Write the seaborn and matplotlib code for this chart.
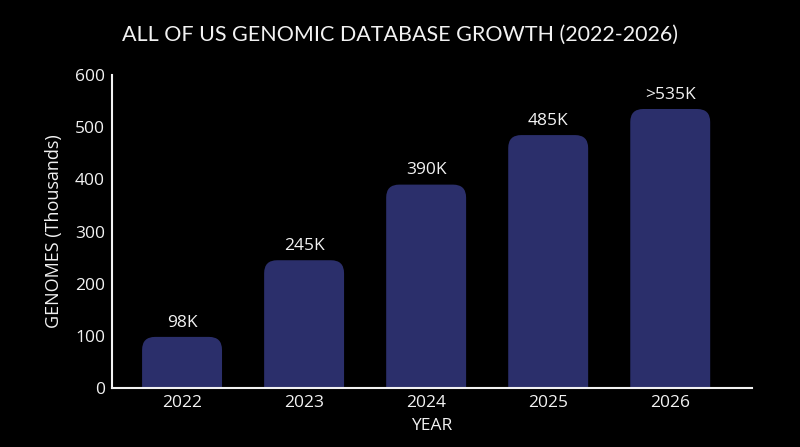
import matplotlib
matplotlib.use("Agg")
import matplotlib.pyplot as plt
import seaborn as sns
import pandas as pd
from matplotlib.patches import FancyBboxPatch

# ==========================================================
# Data
# ==========================================================

years = ["2022", "2023", "2024", "2025", "2026"]
genomes = [98, 245, 390, 485, 535]
labels = ["98K", "245K", "390K", "485K", ">535K"]

df = pd.DataFrame({"year": years, "genomes": genomes})

# ==========================================================
# Style
# ==========================================================

sns.set_style("dark")
plt.rcParams["font.family"] = ["Open Sans", "DejaVu Sans"]

bg = "#000000"
bar_color = "#2b2f6b"
fg = "#f2f2f2"

fig = plt.figure(figsize=(8, 4.47), dpi=100, facecolor=bg)
ax = fig.add_axes([0.14, 0.132, 0.80, 0.70])
ax.set_facecolor(bg)

sns.barplot(data=df, x="year", y="genomes", color=bar_color, width=0.655,
            saturation=1, ax=ax)

ax.set_xlim(-0.574, 4.67)
ax.set_ylim(0, 600)

# ==========================================================
# Rounded bar tops
# ==========================================================

px_x = ax.get_position().width * 800 / (4.67 + 0.574)
px_y = ax.get_position().height * 447 / 600
radius_px = 13
for p in list(ax.patches):
    x0, w, h = p.get_x(), p.get_width(), p.get_height()
    r = radius_px / px_x
    extra = radius_px / px_y
    box = FancyBboxPatch((x0, -extra), w, h + extra,
                         boxstyle="round,pad=0,rounding_size=%f" % r,
                         mutation_aspect=px_x / px_y,
                         facecolor=bar_color, edgecolor="none")
    p.remove()
    ax.add_patch(box)

for i, (v, t) in enumerate(zip(genomes, labels)):
    ax.text(i, v + 12, t, ha="center", va="bottom", color=fg, fontsize=12.5)

# ==========================================================
# Axes
# ==========================================================

for s in ["top", "right"]:
    ax.spines[s].set_visible(False)
for s in ["left", "bottom"]:
    ax.spines[s].set_visible(True)
    ax.spines[s].set_color(fg)
    ax.spines[s].set_linewidth(1.5)

ax.grid(False)
ax.set_yticks([0, 100, 200, 300, 400, 500, 600])
ax.tick_params(colors=fg, labelsize=12.5, length=0, pad=5)
ax.set_xlabel("YEAR", color=fg, fontsize=12.5, labelpad=5)
ax.set_ylabel("GENOMES (Thousands)", color=fg, fontsize=13, labelpad=9)

fig.suptitle("ALL OF US GENOMIC DATABASE GROWTH (2022-2026)", color=fg,
             fontsize=15.5, y=0.945, family=["Lato", "DejaVu Sans"])

fig.savefig("out.png", dpi=100, facecolor=bg)
